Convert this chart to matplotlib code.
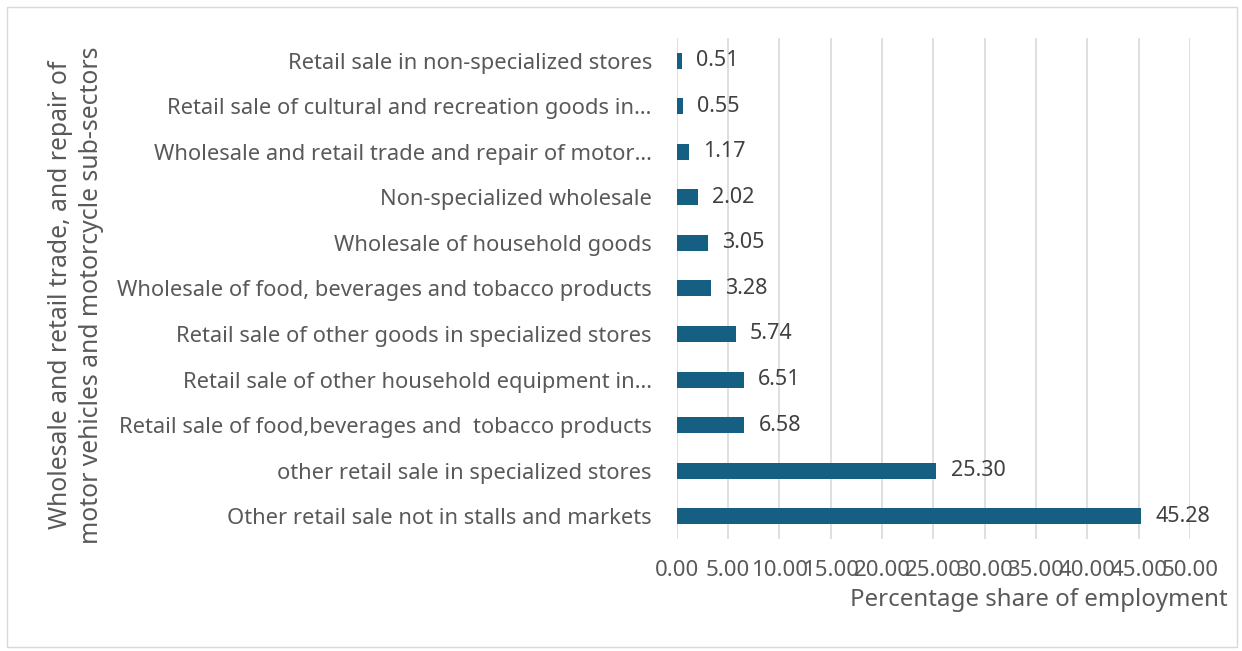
import numpy as np
import matplotlib.pyplot as plt
from matplotlib.patches import Rectangle

plt.rcParams['font.family'] = ['Noto Sans', 'DejaVu Sans']

sectors = [
    'Other retail sale not in stalls and markets',
    'other retail sale in specialized stores',
    'Retail sale of food,beverages and  tobacco products',
    'Retail sale of other household equipment in…',
    'Retail sale of other goods in specialized stores',
    'Wholesale of food, beverages and tobacco products',
    'Wholesale of household goods',
    'Non-specialized wholesale',
    'Wholesale and retail trade and repair of motor…',
    'Retail sale of cultural and recreation goods in…',
    'Retail sale in non-specialized stores',
]
share = [45.28, 25.30, 6.58, 6.51, 5.74, 3.28, 3.05, 2.02, 1.17, 0.55, 0.51]
xticks = np.arange(0, 55, 5)

text_col = '#595959'
bar_col = '#156082'
grid_col = '#d9d9d9'

fig = plt.figure(figsize=(12.42, 6.51), dpi=100)
ax = fig.add_axes([0.545, 0.172, 0.413, 0.770])

y = np.arange(len(sectors))
ax.barh(y, share, height=0.35, color=bar_col, zorder=3)
for yi, v in zip(y, share):
    ax.text(v + 1.4, yi, f'{v:.2f}', va='center', ha='left',
            fontsize=15.5, color='#404040')

ax.set_xlim(0, 50)
ax.set_ylim(-0.5, len(sectors) - 0.5)
ax.set_xticks(xticks)
ax.set_xticklabels([f'{t:.2f}' for t in xticks])
ax.set_yticks(y)
ax.set_yticklabels(sectors)
ax.tick_params(axis='both', length=0, colors=text_col)
ax.tick_params(axis='x', pad=15, labelsize=16)
ax.tick_params(axis='y', pad=18, labelsize=15.8)
ax.grid(axis='x', color=grid_col, linewidth=1.2, zorder=0)
for s in ax.spines.values():
    s.set_visible(False)

ax.set_xlabel('Percentage share of employment', fontsize=17.3, color=text_col,
              ha='right', va='center')
ax.xaxis.set_label_coords(1.074, -0.122)
fig.text(0.061, 0.547,
         'Wholesale and retail trade, and repair of\nmotor vehicles and motorcycle sub-sectors',
         rotation=90, ha='center', va='center', fontsize=17.8, color=text_col,
         linespacing=1.3)

# chart border
fig.patches.append(Rectangle((0.006, 0.006), 0.99, 0.984, transform=fig.transFigure,
                             fill=False, edgecolor=grid_col, linewidth=1))

fig.savefig('out.png', dpi=100)
